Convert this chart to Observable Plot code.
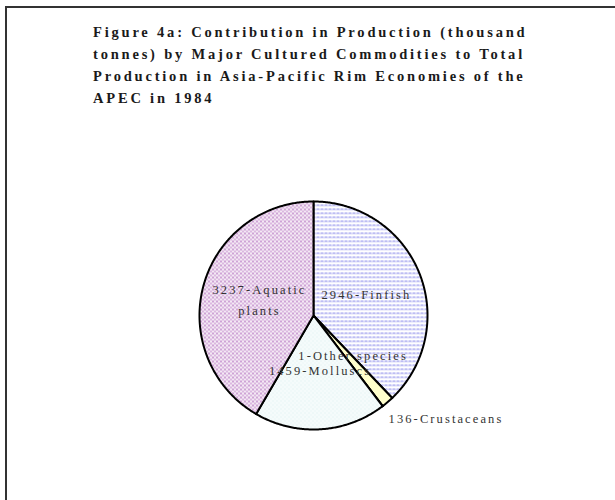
<!DOCTYPE html>
<html><head><meta charset="utf-8">
<script src="https://cdn.jsdelivr.net/npm/d3@7"></script>
<script src="https://cdn.jsdelivr.net/npm/@observablehq/plot@0.6"></script>
<style>
html,body{margin:0;padding:0;background:#fff;overflow:hidden;width:615px;height:500px;}
#wrap{position:relative;width:615px;height:500px;overflow:hidden;}
#frame{position:absolute;left:5px;top:6px;width:700px;height:600px;border-left:2px solid #333;border-top:2px solid #333;}
#title{position:absolute;left:93px;top:21px;font-family:"Liberation Serif";font-weight:bold;font-size:14.5px;line-height:22px;letter-spacing:2.8px;white-space:pre;color:#1a1a1a;}
#chart{position:absolute;left:0;top:0;}
</style></head>
<body>
<svg width="0" height="0" style="position:absolute">
<defs>
<pattern id="patAquatic" width="4" height="4" patternUnits="userSpaceOnUse">
<rect width="4" height="4" fill="#f4e8f4"/>
<rect x="0" y="0" width="1" height="2" fill="#a860b8"/>
<rect x="2" y="2" width="1" height="2" fill="#c088cc"/>
</pattern>
<pattern id="patFinfish" width="4" height="4" patternUnits="userSpaceOnUse">
<rect width="4" height="4" fill="#ffffff"/>
<rect x="0" y="0" width="3" height="1" fill="#a0a0ee"/>
<rect x="0" y="1" width="4" height="1" fill="#dcdcf8"/>
</pattern>
<pattern id="patMolluscs" width="4" height="4" patternUnits="userSpaceOnUse">
<rect width="4" height="4" fill="#f5fbfb"/>
<rect x="0" y="0" width="1" height="1" fill="#d8eeee"/>
<rect x="2" y="2" width="1" height="1" fill="#e2f2f2"/>
</pattern>
</defs></svg>
<div id="wrap"><div id="frame"></div><div id="chart"></div><div id="title"></div></div>
<script>
const titleLines = [
  "Figure 4a: Contribution in Production (thousand",
  "tonnes) by Major Cultured Commodities to Total",
  "Production in Asia-Pacific Rim Economies of the",
  "APEC in 1984"
];
const categories = ["Finfish", "Crustaceans", "Other species", "Molluscs", "Aquatic plants"];
const values = [2946, 136, 1, 1459, 3237];
const labelNames = ["Finfish", "Crustaceans", "Other species", "Molluscs", "Aquatic\nplants"];
const fills = ["url(#patFinfish)", "#ffffcc", "#f4f4ff", "url(#patMolluscs)", "url(#patAquatic)"];
const outsideLabel = [false, true, false, false, false];
const labelDx = [0, 1, 5, 3, 1];
const labelDy = [-2, 14, -7, -4, -3];

document.getElementById("title").textContent = titleLines.join("\n");

const arcs = d3.pie().sort(null).startAngle(0).endAngle(2 * Math.PI)(values);
const poly = [];
arcs.forEach((a, i) => {
  poly.push({name: categories[i], fill: fills[i], x: 0, y: 0});
  const n = Math.max(2, Math.ceil((a.endAngle - a.startAngle) / 0.01));
  for (let k = 0; k <= n; k++) {
    const t = a.startAngle + (a.endAngle - a.startAngle) * k / n;
    poly.push({name: categories[i], fill: fills[i], x: Math.sin(t), y: Math.cos(t)});
  }
  poly.push({name: categories[i], fill: fills[i], x: 0, y: 0});
});
const labels = arcs.map((a, i) => {
  const m = (a.startAngle + a.endAngle) / 2;
  const r = outsideLabel[i] ? 1 : 0.5;
  return {text: `${values[i]}-${labelNames[i]}`, x: r * Math.sin(m), y: r * Math.cos(m), i};
});

const R = 114, cx = 313, cy = 315;
const chart = Plot.plot({
  width: 615, height: 500, margin: 0,
  x: {domain: [-cx / R, (615 - cx) / R], axis: null},
  y: {domain: [-(500 - cy) / R, cy / R], axis: null},
  color: {type: "identity"},
  style: {background: "transparent", fontFamily: "Liberation Serif", letterSpacing: "2.1px"},
  marks: [
    Plot.line(poly, {x: "x", y: "y", z: "name", fill: "fill", stroke: "#000", strokeWidth: 2, strokeLinejoin: "round", curve: "linear"}),
    ...labels.map(d => Plot.text([d], {
      x: "x", y: "y", text: "text", fontSize: 12.5, fill: "#333", lineHeight: 1.65,
      textAnchor: outsideLabel[d.i] ? "start" : "middle",
      dx: labelDx[d.i], dy: labelDy[d.i]
    }))
  ]
});
document.getElementById("chart").appendChild(chart);
</script>
</body></html>
